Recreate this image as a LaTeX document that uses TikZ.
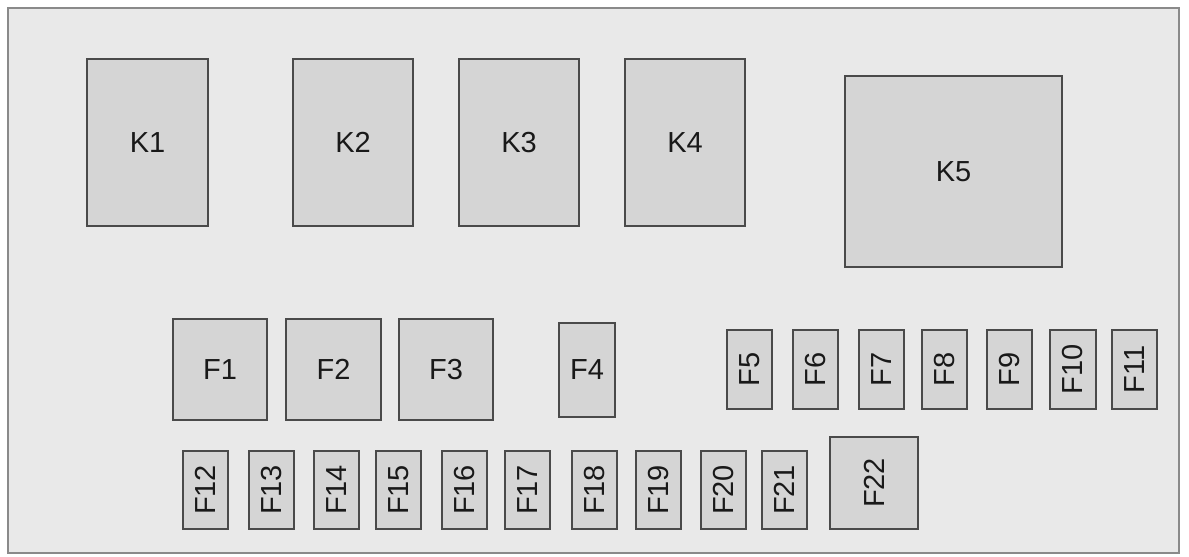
\documentclass[tikz,border=0pt]{standalone}
\usepackage{fontspec}
\setmainfont{Liberation Sans}
\definecolor{bgc}{HTML}{E9E9E9}
\definecolor{boxc}{HTML}{D5D5D5}
\definecolor{edgec}{HTML}{4A4A4A}
\definecolor{framec}{HTML}{8A8A8A}
\tikzset{
  part/.style={draw=edgec, fill=boxc, line width=1.2pt, inner sep=0pt,
    font=\fontsize{29}{29}\selectfont, text=black!90},
}
\newcommand\partbox[6]{%
  \node[part, minimum width={#4pt-#2pt}, minimum height={#5pt-#3pt}]
    (#1) at ({(#2+#4)/2},{(#3+#5)/2}) {#6};}
\begin{document}
\begin{tikzpicture}[x=1pt,y=-1pt]
\useasboundingbox (0,0) rectangle (1189,557);
\fill[white] (0,0) rectangle (1189,557);
\draw[framec, fill=bgc, line width=1.6pt] (8,8) rectangle (1179,553);
% relays
\partbox{K1}{87}{59}{208}{226}{K1}
\partbox{K2}{293}{59}{413}{226}{K2}
\partbox{K3}{459}{59}{579}{226}{K3}
\partbox{K4}{625}{59}{745}{226}{K4}
\partbox{K5}{845}{76}{1062}{267}{K5}
% large fuses
\partbox{F1}{173}{319}{267}{420}{F1}
\partbox{F2}{286}{319}{381}{420}{F2}
\partbox{F3}{399}{319}{493}{420}{F3}
\partbox{F4}{559}{323}{615}{417}{F4}
% upper small fuses
\partbox{F5}{727}{330}{772}{409}{\rotatebox{90}{F5}}
\partbox{F6}{793}{330}{838}{409}{\rotatebox{90}{F6}}
\partbox{F7}{859}{330}{904}{409}{\rotatebox{90}{F7}}
\partbox{F8}{922}{330}{967}{409}{\rotatebox{90}{F8}}
\partbox{F9}{987}{330}{1032}{409}{\rotatebox{90}{F9}}
\partbox{F10}{1050}{330}{1096}{409}{\rotatebox{90}{F10}}
\partbox{F11}{1112}{330}{1157}{409}{\rotatebox{90}{F11}}
% lower small fuses
\partbox{F12}{183}{451}{228}{529}{\rotatebox{90}{F12}}
\partbox{F13}{249}{451}{294}{529}{\rotatebox{90}{F13}}
\partbox{F14}{314}{451}{359}{529}{\rotatebox{90}{F14}}
\partbox{F15}{376}{451}{421}{529}{\rotatebox{90}{F15}}
\partbox{F16}{442}{451}{487}{529}{\rotatebox{90}{F16}}
\partbox{F17}{505}{451}{550}{529}{\rotatebox{90}{F17}}
\partbox{F18}{572}{451}{617}{529}{\rotatebox{90}{F18}}
\partbox{F19}{636}{451}{681}{529}{\rotatebox{90}{F19}}
\partbox{F20}{701}{451}{746}{529}{\rotatebox{90}{F20}}
\partbox{F21}{762}{451}{807}{529}{\rotatebox{90}{F21}}
\partbox{F22}{830}{437}{918}{529}{\rotatebox{90}{F22}}
\end{tikzpicture}
\end{document}
